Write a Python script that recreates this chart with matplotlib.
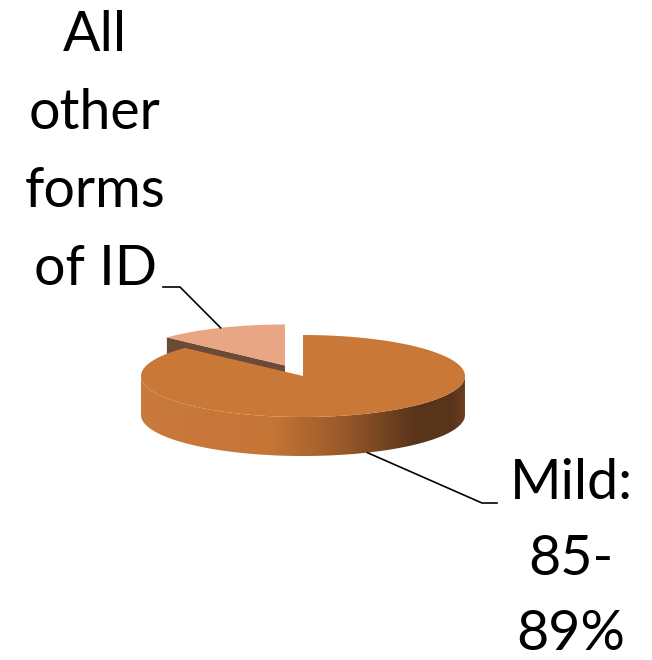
import numpy as np
import matplotlib.pyplot as plt
from matplotlib.patches import Polygon
from matplotlib.colors import LinearSegmentedColormap

# data
labels = ['Mild:\n85-\n89%', 'All\nother\nforms\nof ID']
values = [87, 13]
explode = [0.0, 0.28]
top_colors = ['#C97838', '#E8A684']
face_colors = ['#C97838', '#6B4A36']

# pie geometry (pixels)
cx, cy = 303, 376
rx, ry = 162, 41
depth = 39

fig = plt.figure(figsize=(6.52, 6.60), dpi=100)
ax = fig.add_axes([0, 0, 1, 1])
ax.set_xlim(0, 652)
ax.set_ylim(660, 0)
ax.axis('off')


def pt(theta, off, r=1.0, z=0.0):
    return (cx + off[0] + r * rx * np.cos(theta),
            cy + off[1] - r * ry * np.sin(theta) + z)


fracs = np.array(values) / np.sum(values)
start = np.pi / 2
slices = []
for i, f in enumerate(fracs):
    t1 = start
    t2 = start - f * 2 * np.pi
    mid = (t1 + t2) / 2
    off = (explode[i] * rx * np.cos(mid), -explode[i] * ry * np.sin(mid))
    slices.append((t1, t2, mid, off))
    start = t2

# gradient for the curved side
side_cmap = LinearSegmentedColormap.from_list('side', [
    (0.0, '#C97A3C'), (0.40, '#C57536'), (0.62, '#9A5A2A'),
    (0.85, '#58341A'), (0.96, '#58341A'), (1.0, '#6A3F1F')])

# draw slices, exploded one (behind) first
for i in [1, 0]:
    t1, t2, mid, off = slices[i]
    ts = np.linspace(t1, t2, 200)
    # curved side, only front half is seen
    front = [t for t in ts if np.sin(t) < 0]
    if front:
        front = np.array(front)
        upper = [pt(t, off) for t in front]
        lower = [pt(t, off, z=depth) for t in front[::-1]]
        side = Polygon(upper + lower, closed=True, facecolor='none',
                       edgecolor='none')
        ax.add_patch(side)
        grad = np.linspace(0, 1, 256).reshape(1, -1)
        im = ax.imshow(grad, cmap=side_cmap, aspect='auto',
                       extent=(cx + off[0] - rx, cx + off[0] + rx,
                               cy + off[1] + ry + depth, cy + off[1] - ry),
                       zorder=2 + i)
        im.set_clip_path(side)
    # radial face on the start edge of an exploded slice
    if explode[i] > 0 and np.cos(t1) < 0:
        face = [pt(t1, off, r=0), pt(t1, off), pt(t1, off, z=depth),
                pt(t1, off, r=0, z=depth)]
        ax.add_patch(Polygon(face, closed=True, facecolor=face_colors[i],
                             edgecolor='none', zorder=1))
    top = [pt(t1, off, r=0)] + [pt(t, off) for t in ts]
    ax.add_patch(Polygon(top, closed=True, facecolor=top_colors[i],
                         edgecolor='none', zorder=2 + i if i == 1 else 5))

# labels with leader lines
font = dict(family=['Lato', 'DejaVu Sans'], size=40, color='black',
            ha='center', va='top')

t1, t2, mid, off = slices[0]
x0, y0 = pt(mid, off, z=depth)
ax.plot([x0, 482, 497], [y0, 503, 503], color='black', lw=1.2, zorder=6)
ax.text(571, 458, labels[0], linespacing=1.6, **font)

t1, t2, mid, off = slices[1]
x0, y0 = pt(mid, off)
ax.plot([x0, 180, 163], [y0, 287, 287], color='black', lw=1.2, zorder=6)
ax.text(95, 10, labels[1], linespacing=1.66, **font)

fig.savefig('out.png', dpi=100)
